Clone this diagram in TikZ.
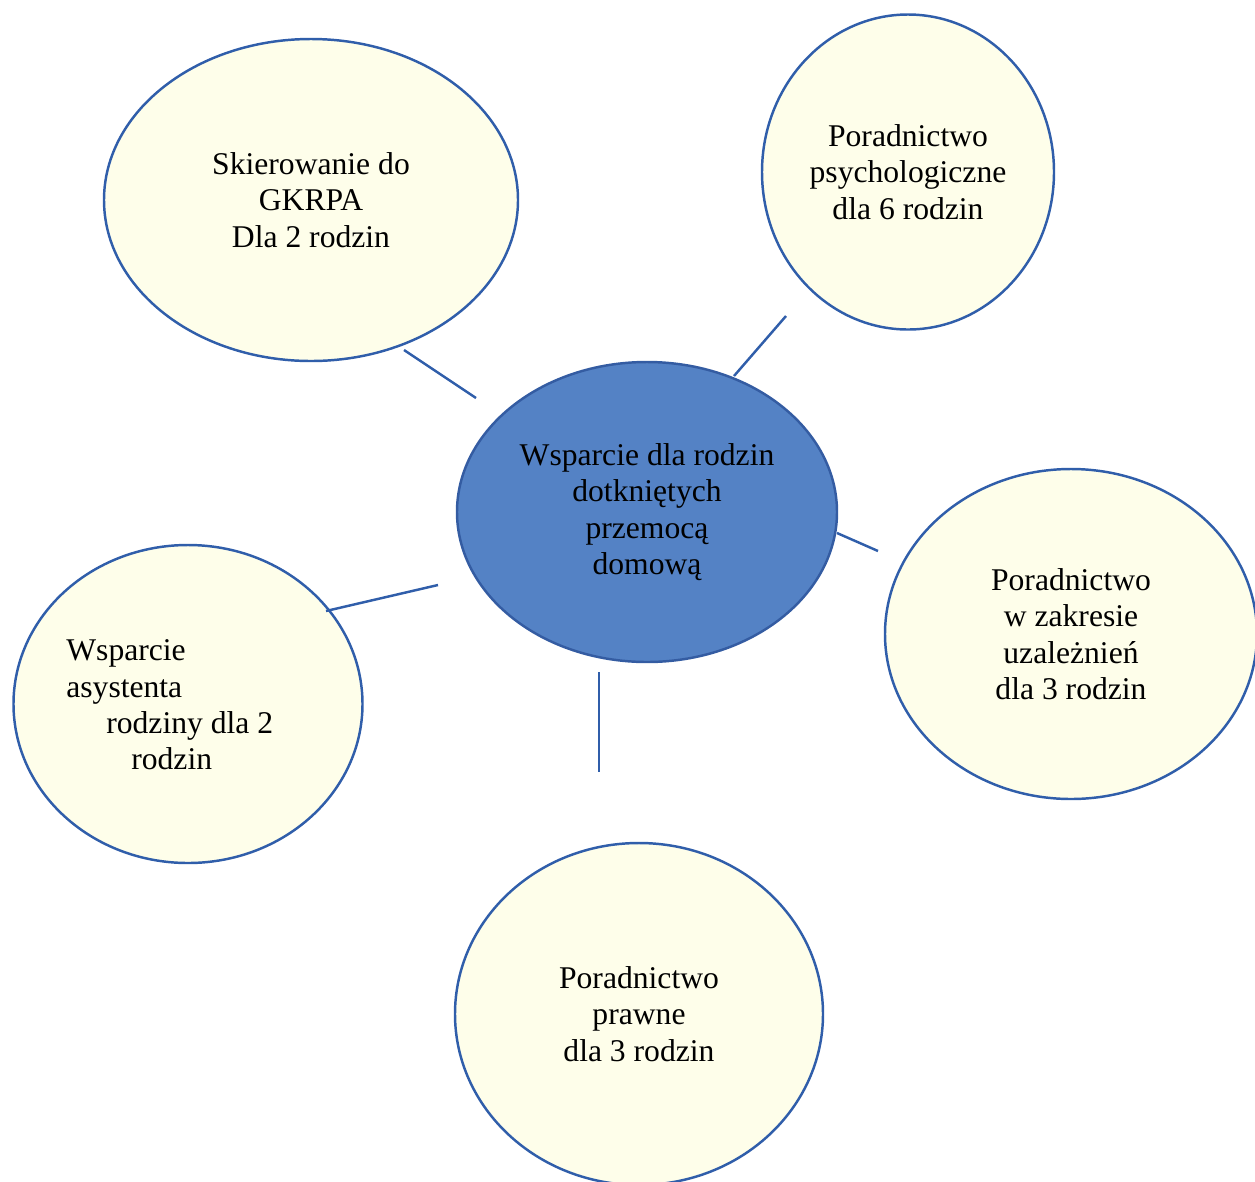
\documentclass[tikz,border=0pt]{standalone}
\usepackage{fontspec}
\setmainfont{Liberation Serif}
\usetikzlibrary{shapes.geometric}

\definecolor{rimblue}{RGB}{48,94,170}
\definecolor{hubfill}{RGB}{84,130,197}
\definecolor{hubrim}{RGB}{52,92,162}
\definecolor{paleyellow}{RGB}{254,254,234}

\tikzset{
  bubble/.style={ellipse, draw=rimblue, fill=paleyellow, line width=1.4pt,
    inner sep=0pt, align=center, font=\fontsize{18}{20.7}\selectfont},
  hub/.style={bubble, draw=hubrim, fill=hubfill},
  link/.style={draw=rimblue, line width=1.4pt}
}

\begin{document}
\begin{tikzpicture}

  \newcommand\X{0.02cm};
  \newcommand\Y{0.02cm};

  \useasboundingbox (0, 0) rectangle (1255*\X, -1181*\Y);

  \node[hub, minimum width=380*\X, minimum height=300*\Y] (hub) at (647*\X, -512*\Y)
    {Wsparcie dla rodzin\\dotkniętych\\przemocą\\domową};

  \node[bubble, minimum width=414*\X, minimum height=322*\Y] (gkrpa) at (311*\X, -200*\Y)
    {Skierowanie do\\GKRPA\\Dla 2 rodzin};
  \node[bubble, minimum width=292*\X, minimum height=315*\Y] (psych) at (908*\X, -172*\Y)
    {Poradnictwo\\psychologiczne\\dla 6 rodzin};
  \node[bubble, minimum width=372*\X, minimum height=330*\Y] (uzal) at (1071*\X, -634*\Y)
    {Poradnictwo\\w zakresie\\uzależnień\\dla 3 rodzin};
  \node[bubble, minimum width=349*\X, minimum height=318*\Y] (asyst) at (188*\X, -704*\Y) {};
  \node[bubble, minimum width=368*\X, minimum height=342*\Y] (prawne) at (639*\X, -1014*\Y)
    {Poradnictwo\\prawne\\dla 3 rodzin};

  % text of the left bubble is not centred
  \node[anchor=west, align=left, inner sep=0pt, font=\fontsize{18}{20.7}\selectfont]
    (asyst-txt) at (66*\X, -705*\Y)
    {Wsparcie\\asystenta\\\hspace*{0.8cm}rodziny dla 2\\\hspace*{1.3cm}rodzin};

  % loose ends of the links
  \coordinate (gkrpa-end) at (404*\X, -350*\Y);
  \coordinate (hub-nw)    at (476*\X, -398*\Y);
  \coordinate (psych-end) at (786*\X, -316*\Y);
  \coordinate (hub-ne)    at (734*\X, -376*\Y);
  \coordinate (uzal-end)  at (878*\X, -551*\Y);
  \coordinate (hub-e)     at (837*\X, -533*\Y);
  \coordinate (asyst-end) at (326*\X, -611*\Y);
  \coordinate (hub-w)     at (438*\X, -585*\Y);
  \coordinate (prawne-end) at (599*\X, -772*\Y);
  \coordinate (hub-s)     at (599*\X, -672*\Y);

  \draw[link] (gkrpa-end) -- (hub-nw);
  \draw[link] (psych-end) -- (hub-ne);
  \draw[link] (hub-e) -- (uzal-end);
  \draw[link] (asyst-end) -- (hub-w);
  \draw[link] (hub-s) -- (prawne-end);

\end{tikzpicture}
\end{document}
